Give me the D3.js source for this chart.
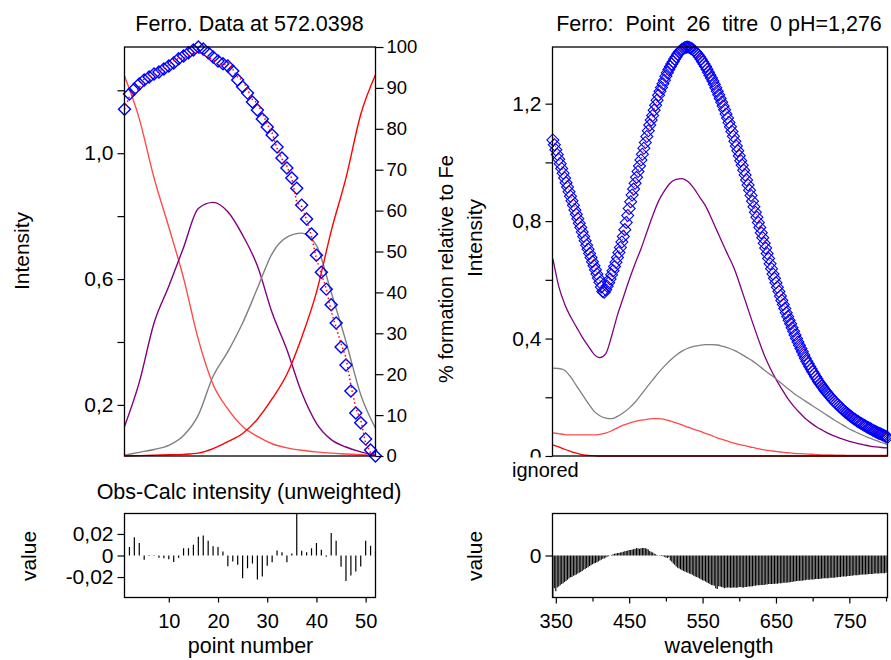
<!DOCTYPE html>
<html lang="en">
<head>
<meta charset="UTF-8" />
<title>Ferro fit</title>
<script src="https://d3js.org/d3.v7.min.js"></script>
<style>
  body { margin: 0; background: #fff; }
  svg { display: block; font-family: "Liberation Sans", Arial, sans-serif; }
</style>
</head>
<body>
<svg width="891" height="660"></svg>
<script>
// ---- left panel: intensity at 572.0398 vs point number ----
const pointNo = d3.range(1, 53);
const obsLeft = [
  1.140, 1.188, 1.204, 1.220, 1.233, 1.242, 1.252, 1.258, 1.268, 1.277,
  1.287, 1.300, 1.309, 1.319, 1.328, 1.3376, 1.331, 1.319, 1.306, 1.293,
  1.284, 1.277, 1.261, 1.233, 1.211, 1.191, 1.163, 1.137, 1.109, 1.083,
  1.058, 1.020, 0.985, 0.953, 0.921, 0.889, 0.835, 0.791, 0.743, 0.676,
  0.622, 0.568, 0.518, 0.460, 0.384, 0.327, 0.244, 0.174, 0.143, 0.092,
  0.057, 0.0376
];
// obs - calc
const resLeft = [
  0.0005, 0.0078, 0.0170, 0.0115, -0.0040, -0.0005, -0.0005, -0.0020, -0.0025, -0.0035,
  -0.0060, -0.0020, 0.0068, 0.0068, 0.0099, 0.0174, 0.0186, 0.0136, 0.0087, 0.0080,
  0.0037, -0.0099, -0.0056, -0.0087, -0.0211, -0.0118, -0.0074, -0.0223, -0.0195, -0.0096,
  -0.0062, 0.0047, 0.0031, -0.0062, 0.0019, 0.0450, 0.0043, 0.0031, 0.0068, 0.0115,
  0.0053, -0.0012, 0.0208, 0.0136, -0.0105, -0.0236, -0.0186, -0.0149, -0.0102, 0.0136,
  0.0090, 0.0037
];
// % formation relative to Fe, read every third point
const compPts = [1, 4, 7, 10, 13, 16, 19, 22, 25, 28, 31, 34, 37, 40, 43, 46, 49, 52];
const pctA = [92.9, 82.5, 68, 56, 43.5, 28.5, 17.5, 11.5, 7.2, 4.8, 3.0, 2.0, 1.4, 1.0, 0.7, 0.5, 0.3, 0.2];
const pctB = [7.2, 18, 32.5, 41.5, 51, 60.5, 62, 59.7, 54, 46.5, 35, 26, 15.5, 8, 4, 2.2, 1.0, 0.2];
const pctC = [0.2, 0.9, 1.6, 2.6, 5.0, 10, 19.5, 25.5, 32.5, 41, 49.5, 53.5, 54.5, 51.5, 40, 28, 15, 6.8];
const pctD = [0, 0.1, 0.2, 0.3, 0.4, 0.7, 1.8, 3.5, 5.5, 9.0, 14, 20, 29, 40, 55, 68, 83.5, 93.2];

// ---- right panel: spectrum of point 26, every 2 nm from 346 ----
const wavelength = d3.range(346, 803, 2);
const obsRight = [
  1.076, 1.060, 1.043, 1.027, 1.011, 0.995, 0.979, 0.963, 0.947, 0.931,
  0.916, 0.900, 0.885, 0.869, 0.854, 0.838, 0.823, 0.808, 0.793, 0.778,
  0.763, 0.748, 0.733, 0.718, 0.704, 0.690, 0.676, 0.662, 0.648, 0.634,
  0.620, 0.606, 0.592, 0.576, 0.560, 0.558, 0.566, 0.578, 0.590, 0.603,
  0.617, 0.631, 0.645, 0.660, 0.676, 0.693, 0.710, 0.729, 0.748, 0.771,
  0.795, 0.819, 0.843, 0.866, 0.889, 0.909, 0.929, 0.949, 0.969, 0.988,
  1.008, 1.028, 1.048, 1.068, 1.088, 1.108, 1.127, 1.144, 1.160, 1.178,
  1.195, 1.212, 1.229, 1.242, 1.255, 1.268, 1.280, 1.293, 1.305, 1.316,
  1.326, 1.335, 1.343, 1.352, 1.360, 1.368, 1.375, 1.380, 1.385, 1.388,
  1.391, 1.392, 1.393, 1.391, 1.389, 1.386, 1.382, 1.377, 1.372, 1.366,
  1.359, 1.351, 1.343, 1.335, 1.327, 1.317, 1.307, 1.297, 1.287, 1.277,
  1.266, 1.254, 1.242, 1.230, 1.218, 1.205, 1.192, 1.179, 1.165, 1.151,
  1.136, 1.121, 1.105, 1.089, 1.072, 1.056, 1.040, 1.023, 1.006, 0.990,
  0.973, 0.957, 0.940, 0.923, 0.905, 0.887, 0.868, 0.849, 0.830, 0.813,
  0.795, 0.778, 0.760, 0.743, 0.725, 0.708, 0.690, 0.673, 0.655, 0.638,
  0.620, 0.605, 0.590, 0.575, 0.560, 0.545, 0.530, 0.516, 0.502, 0.488,
  0.475, 0.462, 0.450, 0.437, 0.425, 0.412, 0.400, 0.388, 0.377, 0.366,
  0.355, 0.344, 0.333, 0.323, 0.314, 0.305, 0.296, 0.287, 0.279, 0.270,
  0.262, 0.254, 0.247, 0.240, 0.233, 0.226, 0.220, 0.214, 0.208, 0.202,
  0.196, 0.190, 0.185, 0.180, 0.175, 0.170, 0.165, 0.160, 0.156, 0.151,
  0.147, 0.143, 0.139, 0.135, 0.131, 0.127, 0.124, 0.120, 0.117, 0.114,
  0.111, 0.108, 0.105, 0.102, 0.099, 0.096, 0.094, 0.091, 0.088, 0.085,
  0.083, 0.080, 0.078, 0.076, 0.074, 0.071, 0.069, 0.066, 0.064
];
const resRight = [
  -0.0100, -0.0078, -0.0085, -0.0076, -0.0074, -0.0071, -0.0068, -0.0066, -0.0063, -0.0061,
  -0.0058, -0.0055, -0.0052, -0.0051, -0.0048, -0.0047, -0.0045, -0.0043, -0.0041, -0.0039,
  -0.0037, -0.0034, -0.0032, -0.0030, -0.0028, -0.0025, -0.0023, -0.0021, -0.0019, -0.0018,
  -0.0016, -0.0014, -0.0012, -0.0010, -0.0008, -0.0007, -0.0005, -0.0003, -0.0002, 0.0000,
  0.0001, 0.0003, 0.0004, 0.0005, 0.0006, 0.0006, 0.0007, 0.0008, 0.0009, 0.0010,
  0.0011, 0.0012, 0.0013, 0.0013, 0.0014, 0.0015, 0.0016, 0.0017, 0.0017, 0.0016,
  0.0017, 0.0018, 0.0018, 0.0017, 0.0016, 0.0014, 0.0011, 0.0009, 0.0007, 0.0005,
  0.0003, 0.0001, 0.0000, -0.0001, -0.0001, -0.0002, -0.0003, -0.0005, -0.0006, -0.0004,
  -0.0012, -0.0015, -0.0019, -0.0022, -0.0026, -0.0029, -0.0031, -0.0033, -0.0035, -0.0037,
  -0.0038, -0.0040, -0.0041, -0.0043, -0.0044, -0.0046, -0.0048, -0.0050, -0.0051, -0.0053,
  -0.0055, -0.0057, -0.0059, -0.0060, -0.0062, -0.0064, -0.0066, -0.0068, -0.0070, -0.0071,
  -0.0072, -0.0078, -0.0080, -0.0073, -0.0074, -0.0075, -0.0076, -0.0078, -0.0077, -0.0076,
  -0.0076, -0.0077, -0.0077, -0.0076, -0.0076, -0.0077, -0.0076, -0.0075, -0.0075, -0.0076,
  -0.0076, -0.0075, -0.0075, -0.0074, -0.0074, -0.0074, -0.0073, -0.0072, -0.0072, -0.0071,
  -0.0071, -0.0071, -0.0070, -0.0070, -0.0070, -0.0069, -0.0069, -0.0068, -0.0068, -0.0068,
  -0.0068, -0.0067, -0.0067, -0.0067, -0.0066, -0.0066, -0.0066, -0.0065, -0.0065, -0.0065,
  -0.0064, -0.0064, -0.0063, -0.0063, -0.0062, -0.0062, -0.0061, -0.0061, -0.0060, -0.0060,
  -0.0060, -0.0059, -0.0059, -0.0058, -0.0058, -0.0058, -0.0057, -0.0057, -0.0057, -0.0056,
  -0.0056, -0.0056, -0.0056, -0.0055, -0.0055, -0.0054, -0.0054, -0.0054, -0.0054, -0.0053,
  -0.0053, -0.0053, -0.0053, -0.0052, -0.0052, -0.0051, -0.0051, -0.0050, -0.0050, -0.0050,
  -0.0050, -0.0049, -0.0049, -0.0048, -0.0048, -0.0047, -0.0047, -0.0047, -0.0047, -0.0046,
  -0.0046, -0.0045, -0.0045, -0.0045, -0.0045, -0.0044, -0.0044, -0.0044, -0.0044, -0.0043,
  -0.0043, -0.0043, -0.0043, -0.0042, -0.0042, -0.0042, -0.0042, -0.0041, -0.0041
];
// species spectra, read every 8 nm
const compWl = d3.range(346, 803, 8);
const specA = [
  0.079, 0.076, 0.073, 0.072, 0.072, 0.072, 0.072, 0.072, 0.074, 0.078,
  0.086, 0.096, 0.105, 0.112, 0.118, 0.122, 0.125, 0.127, 0.127, 0.125,
  0.119, 0.113, 0.106, 0.098, 0.091, 0.085, 0.077, 0.070, 0.062, 0.056,
  0.049, 0.043, 0.038, 0.034, 0.029, 0.025, 0.021, 0.018, 0.016, 0.013,
  0.011, 0.009, 0.008, 0.007, 0.006, 0.005, 0.004, 0.004, 0.003, 0.003,
  0.002, 0.002, 0.002, 0.002, 0.002, 0.002, 0.002, 0.002
];
const specB = [
  0.672, 0.578, 0.518, 0.475, 0.440, 0.405, 0.375, 0.347, 0.335, 0.348,
  0.408, 0.480, 0.540, 0.600, 0.655, 0.705, 0.762, 0.818, 0.868, 0.903,
  0.930, 0.942, 0.945, 0.935, 0.912, 0.882, 0.852, 0.810, 0.765, 0.720,
  0.677, 0.633, 0.575, 0.515, 0.455, 0.398, 0.344, 0.300, 0.262, 0.228,
  0.196, 0.170, 0.148, 0.128, 0.112, 0.098, 0.087, 0.076, 0.068, 0.060,
  0.053, 0.047, 0.042, 0.038, 0.034, 0.031, 0.029, 0.028
];
const specC = [
  0.299, 0.298, 0.292, 0.270, 0.240, 0.210, 0.180, 0.153, 0.137, 0.129,
  0.127, 0.135, 0.147, 0.163, 0.183, 0.208, 0.234, 0.259, 0.284, 0.306,
  0.326, 0.343, 0.357, 0.367, 0.373, 0.377, 0.379, 0.379, 0.378, 0.373,
  0.367, 0.359, 0.348, 0.336, 0.324, 0.309, 0.293, 0.278, 0.263, 0.246,
  0.230, 0.214, 0.200, 0.187, 0.174, 0.161, 0.148, 0.135, 0.122, 0.110,
  0.098, 0.087, 0.078, 0.069, 0.061, 0.053, 0.046, 0.039
];
const specD = [
  0.038, 0.031, 0.023, 0.016, 0.010, 0.005, 0.002, 0.001, 0.000, 0.000,
  0, 0, 0, 0, 0, 0, 0, 0, 0, 0,
  0, 0, 0, 0, 0, 0, 0, 0, 0, 0,
  0, 0, 0, 0, 0, 0, 0, 0, 0, 0,
  0, 0, 0, 0, 0, 0, 0, 0, 0, 0,
  0, 0, 0, 0, 0, 0, 0, 0
];

const speciesColors = ["#ff4a4a", "#800080", "#808080", "#ff0000"];

// ---- drawing ----
const svg = d3.select("svg");
const font = '"Liberation Sans", Arial, sans-serif';
const loc = d3.formatLocale({decimal: ",", thousands: ".", grouping: [3], currency: ["", ""], minus: "-"});
const f1 = loc.format(".1f"), f2 = loc.format(".2f");
const near = (a, list) => list.some(v => Math.abs(a - v) < 1e-9);

const L  = {x0: 124.5, x1: 375.5, y0: 47, y1: 456};
const R  = {x0: 552.5, x1: 887.5, y0: 47, y1: 456};
const LB = {x0: 124.5, x1: 375.5, y0: 513.5, y1: 597.5};
const RB = {x0: 552.5, x1: 887.5, y0: 513.5, y1: 597.5};

const xPt = d3.scaleLinear().domain([1, 52]).range([L.x0, L.x1]);
const yInt = d3.scaleLinear().domain(d3.extent(obsLeft)).range([L.y1, L.y0]);
const yPct = d3.scaleLinear().domain([0, 100]).range([L.y1, L.y0]);
const yResL = d3.scaleLinear().domain([-0.039, 0.039]).range([LB.y1, LB.y0]);

const xWl = d3.scaleLinear().domain([345.5, 802]).range([R.x0, R.x1]);
const ySpec = d3.scaleLinear().domain([0, d3.max(obsRight)]).range([R.y1, R.y0]);
const yResR = d3.scaleLinear().domain([-0.01, 0.01]).range([RB.y1, RB.y0]);

function styleAxis(g, size) {
  g.attr("font-family", null).attr("font-size", null);
  g.select(".domain").remove();
  g.selectAll(".tick line").attr("stroke", "#000").attr("stroke-width", 1.2);
  g.selectAll(".tick text").attr("font-family", font).attr("font-size", size).attr("fill", "#000");
}
function frame(b) {
  svg.append("rect")
    .attr("x", b.x0).attr("y", b.y0)
    .attr("width", b.x1 - b.x0).attr("height", b.y1 - b.y0)
    .attr("fill", "none").attr("stroke", "#000").attr("stroke-width", 1.3);
}
function label(txt, x, y, size, rot, anchor) {
  return svg.append("text")
    .attr("transform", `translate(${x},${y})` + (rot ? " rotate(-90)" : ""))
    .attr("text-anchor", anchor || "middle")
    .attr("font-size", size).attr("font-family", font)
    .style("white-space", "pre")
    .text(txt);
}
function clip(id, b) {
  svg.append("clipPath").attr("id", id).append("rect")
    .attr("x", b.x0).attr("y", b.y0).attr("width", b.x1 - b.x0).attr("height", b.y1 - b.y0);
}
function diamonds(g, xs, ys, x, y, sw) {
  g.selectAll("path.mk").data(xs).enter().append("path")
    .attr("class", "mk")
    .attr("d", d3.symbol(d3.symbolSquare, 72)())
    .attr("transform", (d, i) => `translate(${x(d)},${y(ys[i])}) rotate(45)`)
    .attr("fill", "none").attr("stroke", "#0000ff").attr("stroke-width", sw);
}

clip("clipLB", LB);
clip("clipRB", RB);

// left top
const gL = svg.append("g");
[pctA, pctB, pctC, pctD].forEach((arr, k) => {
  gL.append("path")
    .datum(compPts.map((p, i) => [p, arr[i]]))
    .attr("d", d3.line().x(d => xPt(d[0])).y(d => yPct(d[1])).curve(d3.curveMonotoneX))
    .attr("fill", "none").attr("stroke", speciesColors[k]).attr("stroke-width", 1.4);
});
diamonds(gL, pointNo, obsLeft, xPt, yInt, 1.4);
gL.append("path")
  .datum(pointNo.map((p, i) => [p, obsLeft[i] - resLeft[i]]))
  .attr("d", d3.line().x(d => xPt(d[0])).y(d => yInt(d[1])))
  .attr("fill", "none").attr("stroke", "#ff0000").attr("stroke-width", 1.5)
  .attr("stroke-dasharray", "1.5,2.5");
frame(L);

svg.append("g").attr("transform", `translate(${L.x0},0)`)
  .call(d3.axisLeft(yInt).tickValues([0.2, 0.4, 0.6, 0.8, 1.0, 1.2]).tickSize(7).tickPadding(4)
    .tickFormat(d => near(d, [0.2, 0.6, 1.0]) ? f1(d) : ""))
  .call(g => styleAxis(g, "21px"));
svg.append("g").attr("transform", `translate(${L.x1},0)`)
  .call(d3.axisRight(yPct).tickValues(d3.range(0, 101, 10)).tickSize(8).tickPadding(3))
  .call(g => styleAxis(g, "18.5px"));

// right top
const gR = svg.append("g");
[specA, specB, specC, specD].forEach((arr, k) => {
  gR.append("path")
    .datum(compWl.map((w, i) => [w, arr[i]]))
    .attr("d", d3.line().x(d => xWl(d[0])).y(d => ySpec(d[1])).curve(d3.curveMonotoneX))
    .attr("fill", "none").attr("stroke", speciesColors[k]).attr("stroke-width", 1.3);
});
diamonds(gR, wavelength, obsRight, xWl, ySpec, 1.1);
gR.append("path")
  .datum(wavelength.map((w, i) => [w, obsRight[i] - resRight[i]]))
  .attr("d", d3.line().x(d => xWl(d[0])).y(d => ySpec(d[1])))
  .attr("fill", "none").attr("stroke", "#ff0000").attr("stroke-width", 1)
  .attr("stroke-dasharray", "1,2");
frame(R);

svg.append("g").attr("transform", `translate(${R.x0},0)`)
  .call(d3.axisLeft(ySpec).tickValues([0, 0.2, 0.4, 0.6, 0.8, 1.0, 1.2]).tickSize(7).tickPadding(4)
    .tickFormat(d => d === 0 ? "0" : near(d, [0.4, 0.8, 1.2]) ? f1(d) : ""))
  .call(g => styleAxis(g, "21px"));

// left residuals
svg.append("g").attr("clip-path", "url(#clipLB)")
  .selectAll("line").data(pointNo).enter().append("line")
  .attr("x1", d => xPt(d)).attr("x2", d => xPt(d))
  .attr("y1", yResL(0)).attr("y2", (d, i) => yResL(resLeft[i]))
  .attr("stroke", "#000").attr("stroke-width", 1.2);
frame(LB);
svg.append("g").attr("transform", `translate(${LB.x0},0)`)
  .call(d3.axisLeft(yResL).tickValues([-0.02, 0, 0.02]).tickSize(7).tickPadding(4)
    .tickFormat(d => d === 0 ? "0" : f2(d)))
  .call(g => styleAxis(g, "21px"));
svg.append("g").attr("transform", `translate(0,${LB.y1})`)
  .call(d3.axisBottom(xPt).tickValues([10, 20, 30, 40, 50]).tickSize(5).tickPadding(11))
  .call(g => styleAxis(g, "20px"));

// right residuals
svg.append("g").attr("clip-path", "url(#clipRB)")
  .selectAll("line").data(wavelength).enter().append("line")
  .attr("x1", d => xWl(d)).attr("x2", d => xWl(d))
  .attr("y1", yResR(0)).attr("y2", (d, i) => yResR(resRight[i]))
  .attr("stroke", "#000").attr("stroke-width", 1.1);
frame(RB);
svg.append("g").attr("transform", `translate(${RB.x0},0)`)
  .call(d3.axisLeft(yResR).tickValues([0]).tickSize(7).tickPadding(4).tickFormat(() => "0"))
  .call(g => styleAxis(g, "21px"));
const labelledWl = [350, 450, 550, 650, 750];
svg.append("g").attr("transform", `translate(0,${RB.y1})`)
  .call(d3.axisBottom(xWl).tickValues(d3.range(350, 801, 50)).tickSize(6).tickPadding(10)
    .tickFormat(d => labelledWl.includes(d) ? d : ""))
  .call(g => styleAxis(g, "20px"))
  .call(g => g.selectAll(".tick line").attr("y2", d => labelledWl.includes(d) ? 6 : 4));

// texts
label("Ferro. Data at 572.0398", 249.5, 31, "21.5px");
label("Ferro:  Point  26  titre  0 pH=1,276", 719, 31, "21.5px");
label("Intensity", 29, 251, "21px", true);
label("% formation relative to Fe", 453, 269, "20px", true);
label("Intensity", 482, 238, "21px", true);
// the "ignored" note sits on a white patch that hides the lower half of the 0 label
svg.append("rect").attr("x", 505).attr("y", 457.5).attr("width", 44).attr("height", 22).attr("fill", "#fff");
label("ignored", 512, 477, "20px", false, "start");
label("Obs-Calc intensity (unweighted)", 249, 499, "21.5px");
label("value", 36, 556, "21px", true);
label("value", 482, 556, "21px", true);
label("point number", 250.5, 653, "21.5px");
label("wavelength", 719, 653, "21.5px");
</script>
</body>
</html>
